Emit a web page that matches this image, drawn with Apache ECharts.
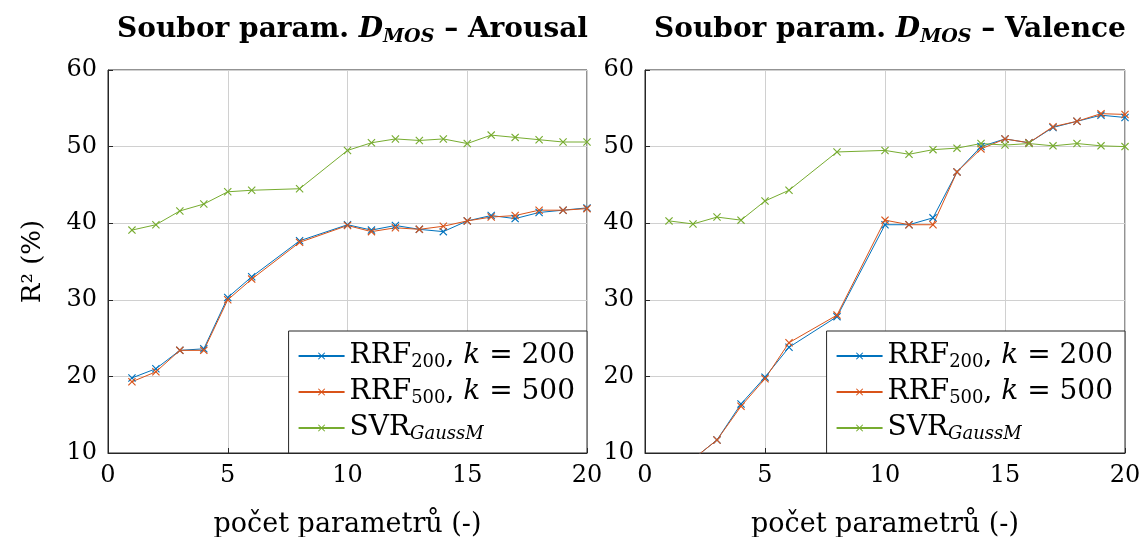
<!DOCTYPE html>
<html><head><meta charset="utf-8">
<script src="https://cdn.jsdelivr.net/npm/echarts@6/dist/echarts.min.js"></script>
<style>html,body{margin:0;padding:0;background:#fff}#c{width:1147px;height:537px}</style>
</head><body><div id="c"></div>
<script>
// ---- data ----
const xValues = [1,2,3,4,5,6,8,10,11,12,13,14,15,16,17,18,19,20];
const arousalRRF200 = [19.8,21.0,23.4,23.6,30.3,33.0,37.7,39.8,39.1,39.7,39.2,38.9,40.3,41.0,40.6,41.4,41.7,42.0];
const arousalRRF500 = [19.3,20.6,23.4,23.4,30.0,32.7,37.5,39.7,38.9,39.4,39.2,39.6,40.3,40.8,41.0,41.7,41.7,41.9];
const arousalSVR    = [39.1,39.8,41.6,42.5,44.1,44.3,44.5,49.5,50.5,51.0,50.8,51.0,50.4,51.5,51.2,50.9,50.6,50.6];
const valenceRRF200 = [7.0,9.2,11.7,16.4,19.9,23.8,27.8,39.8,39.8,40.7,46.7,50.0,51.0,50.5,52.5,53.3,54.1,53.8];
const valenceRRF500 = [7.0,9.2,11.7,16.1,19.7,24.4,28.0,40.4,39.8,39.8,46.7,49.7,51.0,50.5,52.6,53.3,54.3,54.2];
const valenceSVR    = [40.3,39.9,40.8,40.4,42.9,44.3,49.3,49.5,49.0,49.6,49.8,50.4,50.2,50.4,50.1,50.4,50.1,50.0];
const panelTitles = ['Arousal', 'Valence'];
const seriesNames = ['RRF200', 'RRF500', 'SVR'];
const xAxisName = 'počet parametrů (-)';
const yAxisName = 'R² (%)';

// ---- styling ----
const FONT = 'DejaVu Serif';
const COLORS = ['#0072BD', '#D95319', '#77AC30'];
const XMARK = 'path://M0,1L1,0L5,4L9,0L10,1L6,5L10,9L9,10L5,6L1,10L0,9L4,5Z';
const FRAME = '#262626';

function pairs(vals){ return xValues.map((x,i)=>[x, vals[i]]); }

const panels = [
  [arousalRRF200, arousalRRF500, arousalSVR],
  [valenceRRF200, valenceRRF500, valenceSVR]
];
const gridPos = [{left:108, top:70, width:479, height:383}, {left:645, top:70, width:480, height:383}];

const titleRich = {
  b: {fontFamily: FONT, fontWeight: 'bold', fontSize: 28, lineHeight: 36, color: '#000'},
  i: {fontFamily: FONT, fontStyle: 'italic', fontSize: 28, lineHeight: 36, color: '#000'},
  s: {fontFamily: FONT, fontStyle: 'italic', fontSize: 19, lineHeight: 22, padding: [14,0,0,0], color: '#000'}
};
const legendRich = {
  n: {fontFamily: FONT, fontSize: 28, lineHeight: 32, color: '#000'},
  i: {fontFamily: FONT, fontStyle: 'italic', fontSize: 28, lineHeight: 32, color: '#000'},
  s: {fontFamily: FONT, fontSize: 18, lineHeight: 20, padding: [12,0,0,0], color: '#000'},
  si: {fontFamily: FONT, fontStyle: 'italic', fontSize: 18, lineHeight: 20, padding: [12,0,0,0], color: '#000'}
};
const legendText = {
  RRF200: '{n|RRF}{s|200}{n|, }{i|k}{n| = 200}',
  RRF500: '{n|RRF}{s|500}{n|, }{i|k}{n| = 500}',
  SVR: '{n|SVR}{si|GaussM}'
};

const option = {
  animation: false,
  backgroundColor: '#fff',
  title: panelTitles.map((t,i)=>({
    text: '{b|Soubor param. }{i|D}{s|MOS}{b| – ' + t + '}',
    left: gridPos[i].left + gridPos[i].width/2,
    textAlign: 'center',
    top: 7,
    textStyle: {rich: titleRich}
  })),
  grid: gridPos.map(g=>Object.assign({show:true, borderColor: FRAME, borderWidth: 1, containLabel: false, outerBoundsMode: 'none'}, g)),
  legend: gridPos.map((g,i)=>({
    data: seriesNames,
    orient: 'vertical',
    right: 1147 - (g.left + g.width),
    bottom: 537 - (g.top + g.height),
    backgroundColor: '#fff',
    borderColor: FRAME,
    borderWidth: 1,
    borderRadius: 0,
    padding: [10, 12, 10, 9],
    itemWidth: 46,
    itemHeight: 9,
    itemGap: 6,
    formatter: n => legendText[n],
    textStyle: {rich: legendRich, fontFamily: FONT, fontSize: 28}
  })),
  xAxis: gridPos.map((g,i)=>({
    type: 'value', gridIndex: i, min: 0, max: 20, interval: 5,
    axisLine: {show: true, lineStyle: {color: FRAME, width: 1}},
    axisTick: {show: true, inside: true, length: 5, lineStyle: {color: FRAME}},
    splitLine: {show: true, lineStyle: {color: '#d0d0d0', width: 1}},
    axisLabel: {fontFamily: FONT, fontSize: 24, color: '#000', margin: 11},
    name: xAxisName, nameLocation: 'middle', nameGap: 58,
    nameTextStyle: {fontFamily: FONT, fontSize: 27, color: '#000'}
  })),
  yAxis: gridPos.map((g,i)=>({
    type: 'value', gridIndex: i, min: 10, max: 60, interval: 10,
    axisLine: {show: true, lineStyle: {color: FRAME, width: 1}},
    axisTick: {show: true, inside: true, length: 5, lineStyle: {color: FRAME}},
    splitLine: {show: true, lineStyle: {color: '#d0d0d0', width: 1}},
    axisLabel: {fontFamily: FONT, fontSize: 24, color: '#000', margin: 11},
    name: i === 0 ? yAxisName : '', nameLocation: 'middle', nameGap: 62, nameRotate: 90,
    nameTextStyle: {fontFamily: FONT, fontSize: 26, color: '#000'}
  })),
  series: []
};
panels.forEach((vals, p)=>{
  vals.forEach((v, s)=>{
    option.series.push({
      type: 'line', name: seriesNames[s], xAxisIndex: p, yAxisIndex: p,
      data: pairs(v),
      symbol: XMARK, symbolSize: 8, showSymbol: true,
      color: COLORS[s],
      lineStyle: {color: COLORS[s], width: 1},
      itemStyle: {color: COLORS[s]},
      clip: true
    });
  });
});
const chart = echarts.init(document.getElementById('c'), null, {renderer: 'canvas'});
chart.setOption(option);
</script></body></html>
